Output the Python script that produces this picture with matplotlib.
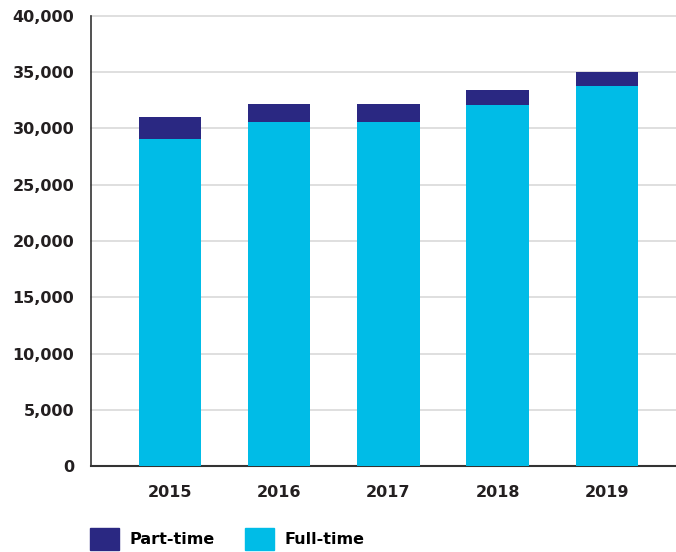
import matplotlib
matplotlib.use("Agg")
import matplotlib.pyplot as plt
from matplotlib.patches import Patch
from matplotlib.ticker import FuncFormatter, MultipleLocator

years = ["2015", "2016", "2017", "2018", "2019"]
full_time = [29100, 30550, 30550, 32050, 33750]
part_time = [1950, 1600, 1600, 1400, 1250]

c_full = "#00BCE7"
c_part = "#2A2882"

plt.rcParams['font.family'] = ['DejaVu Sans']
plt.rcParams['font.weight'] = 'bold'

fig = plt.figure(figsize=(6.76, 5.52), dpi=100)
W, H = 676, 552
ax = fig.add_axes([91 / W, 1 - 466 / H, (676 - 91) / W, (466 - 16) / H])

x = list(range(len(years)))
ax.bar(x, full_time, width=0.57, color=c_full, zorder=3)
ax.bar(x, part_time, width=0.57, bottom=full_time, color=c_part, zorder=3)

ax.set_xlim(-0.725, 4.635)
ax.set_ylim(0, 40000)
ax.yaxis.set_major_locator(MultipleLocator(5000))
ax.yaxis.set_major_formatter(FuncFormatter(lambda v, p: f"{int(v):,}"))
ax.set_xticks(x)
ax.set_xticklabels(years)

ax.grid(axis='y', color='#dcdcdc', linewidth=1.3, zorder=0)
for gl in ax.get_ygridlines():
    gl.set_clip_on(False)
ax.set_axisbelow(True)
for s in ['top', 'right']:
    ax.spines[s].set_visible(False)
ax.spines['left'].set_color('#333333')
ax.spines['bottom'].set_color('#333333')
ax.spines['left'].set_linewidth(1.2)
ax.spines['bottom'].set_linewidth(1.5)
ax.tick_params(axis='both', length=0, labelsize=11.5, colors='#231f20')
ax.tick_params(axis='y', pad=12)
ax.tick_params(axis='x', pad=14)

handles = [Patch(color=c_part, label='Part-time'), Patch(color=c_full, label='Full-time')]
fig.legend(handles=handles, loc='lower left', bbox_to_anchor=(85 / W, -3 / H), ncol=2,
           frameon=False, fontsize=11.5, handlelength=1.85, handleheight=1.75,
           handletextpad=0.65, columnspacing=1.85, borderaxespad=0, borderpad=0.3)

fig.savefig("out.png", dpi=100)
